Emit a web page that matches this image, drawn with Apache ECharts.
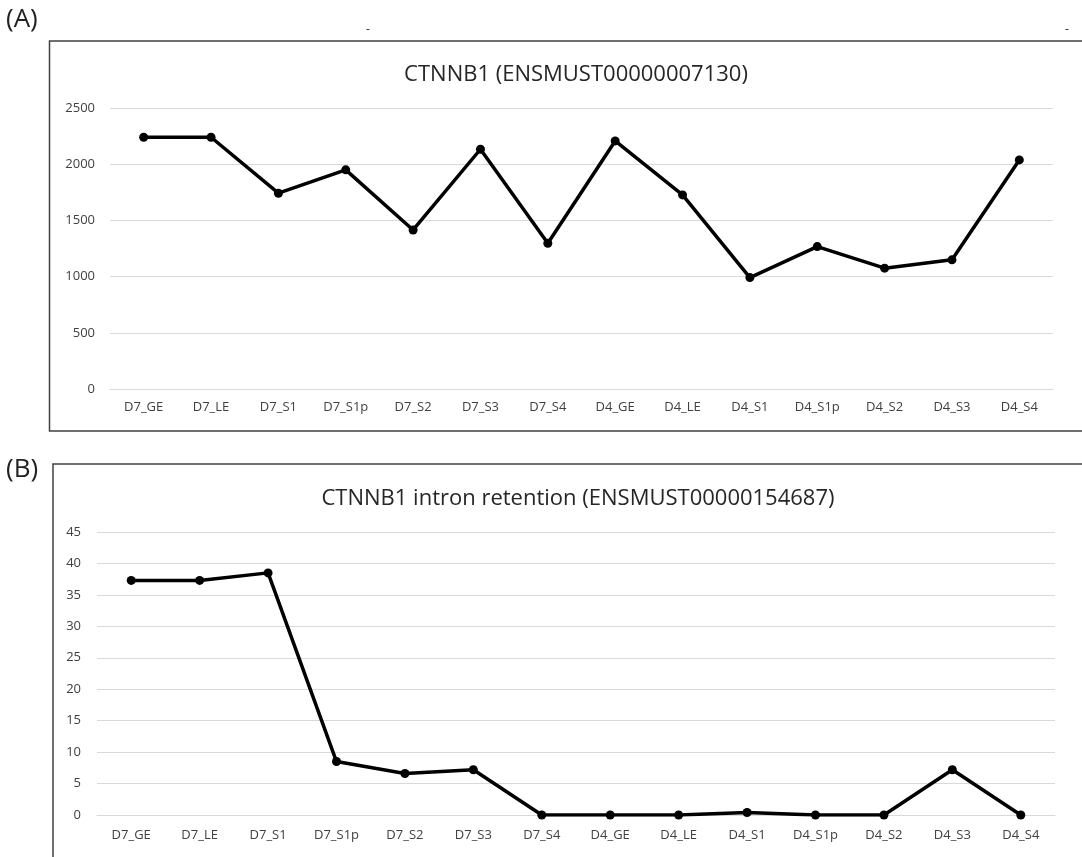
<!DOCTYPE html>
<html>
<head>
<meta charset="utf-8">
<script src="https://cdn.jsdelivr.net/npm/echarts@6/dist/echarts.min.js"></script>
<style>
  html, body { margin: 0; padding: 0; background: #ffffff; }
  #chart { width: 1082px; height: 857px; }
</style>
</head>
<body>
<div id="chart"></div>
<script>
// Sample labels shared by both panels
const samples = ['D7_GE', 'D7_LE', 'D7_S1', 'D7_S1p', 'D7_S2', 'D7_S3', 'D7_S4',
                 'D4_GE', 'D4_LE', 'D4_S1', 'D4_S1p', 'D4_S2', 'D4_S3', 'D4_S4'];

// Panel A: CTNNB1 transcript ENSMUST00000007130
const ctnnb1Values = [2240, 2240, 1742, 1950, 1415, 2133, 1297,
                      2207, 1727, 991, 1267, 1075, 1149, 2038];

// Panel B: CTNNB1 intron-retention transcript ENSMUST00000154687
const intronValues = [37.3, 37.3, 38.5, 8.5, 6.6, 7.2, 0,
                      0, 0, 0.4, 0, 0, 7.2, 0];

const titleA = 'CTNNB1 (ENSMUST00000007130)';
const titleB = 'CTNNB1 intron retention (ENSMUST00000154687)';

const FONT = '"Open Sans", "DejaVu Sans", sans-serif';
const TEXT = '#404040';
const GRID = '#d9d9d9';

function xAxisFor(gridIndex, margin) {
  return {
    type: 'category', gridIndex: gridIndex, data: samples, boundaryGap: true,
    axisLine: { show: true, lineStyle: { color: GRID, width: 1 } },
    axisTick: { show: false },
    axisLabel: { color: TEXT, fontFamily: FONT, fontSize: 13, margin: margin, interval: 0 }
  };
}
function yAxisFor(gridIndex, max, interval, margin) {
  return {
    type: 'value', gridIndex: gridIndex, min: 0, max: max, interval: interval,
    axisLine: { show: false }, axisTick: { show: false },
    splitLine: { show: true, lineStyle: { color: GRID, width: 1 } },
    axisLabel: { color: TEXT, fontFamily: FONT, fontSize: 13, margin: margin,
                 formatter: function (v) { return String(v); } }
  };
}
function lineSeries(idx, values) {
  return {
    type: 'line', xAxisIndex: idx, yAxisIndex: idx, data: values,
    symbol: 'circle', symbolSize: 9, showSymbol: true,
    lineStyle: { color: '#000000', width: 3.5 },
    itemStyle: { color: '#000000' },
    silent: true, animation: false
  };
}

const chart = echarts.init(document.getElementById('chart'), null, { renderer: 'canvas' });
chart.setOption({
  backgroundColor: '#ffffff',
  animation: false,
  title: [
    { text: titleA, left: 571, top: 59, textAlign: 'center',
      textStyle: { fontFamily: FONT, fontSize: 22, fontWeight: 'normal', color: '#262626' } },
    { text: titleB, left: 573, top: 483, textAlign: 'center',
      textStyle: { fontFamily: FONT, fontSize: 22, fontWeight: 'normal', color: '#262626' } }
  ],
  grid: [
    { left: 110, right: 29, top: 108, bottom: 468, containLabel: false },
    { left: 97, right: 27, top: 532, bottom: 42, containLabel: false }
  ],
  xAxis: [xAxisFor(0, 12), xAxisFor(1, 14)],
  yAxis: [yAxisFor(0, 2500, 500, 15), yAxisFor(1, 45, 5, 16)],
  series: [lineSeries(0, ctnnb1Values), lineSeries(1, intronValues)],
  graphic: [
    // panel frames (open on the right/bottom where they run past the page)
    { type: 'polyline', shape: { points: [[1090, 41], [49.5, 41], [49.5, 431], [1090, 431]] },
      style: { stroke: '#404040', lineWidth: 1.5, fill: null } },
    { type: 'polyline', shape: { points: [[1090, 464], [53, 464], [53, 870]] },
      style: { stroke: '#404040', lineWidth: 1.5, fill: null } },
    // panel letters
    { type: 'text', left: 6, top: 7,
      style: { text: '(A)', fontFamily: FONT, fontSize: 26, fill: '#222222' } },
    { type: 'text', left: 6, top: 457,
      style: { text: '(B)', fontFamily: FONT, fontSize: 26, fill: '#222222' } },
    // small dashes above panel A
    { type: 'text', left: 366, top: 24,
      style: { text: '-', fontFamily: FONT, fontSize: 12, fill: '#222222' } },
    { type: 'text', left: 1065, top: 24,
      style: { text: '-', fontFamily: FONT, fontSize: 12, fill: '#222222' } }
  ]
});
</script>
</body>
</html>
